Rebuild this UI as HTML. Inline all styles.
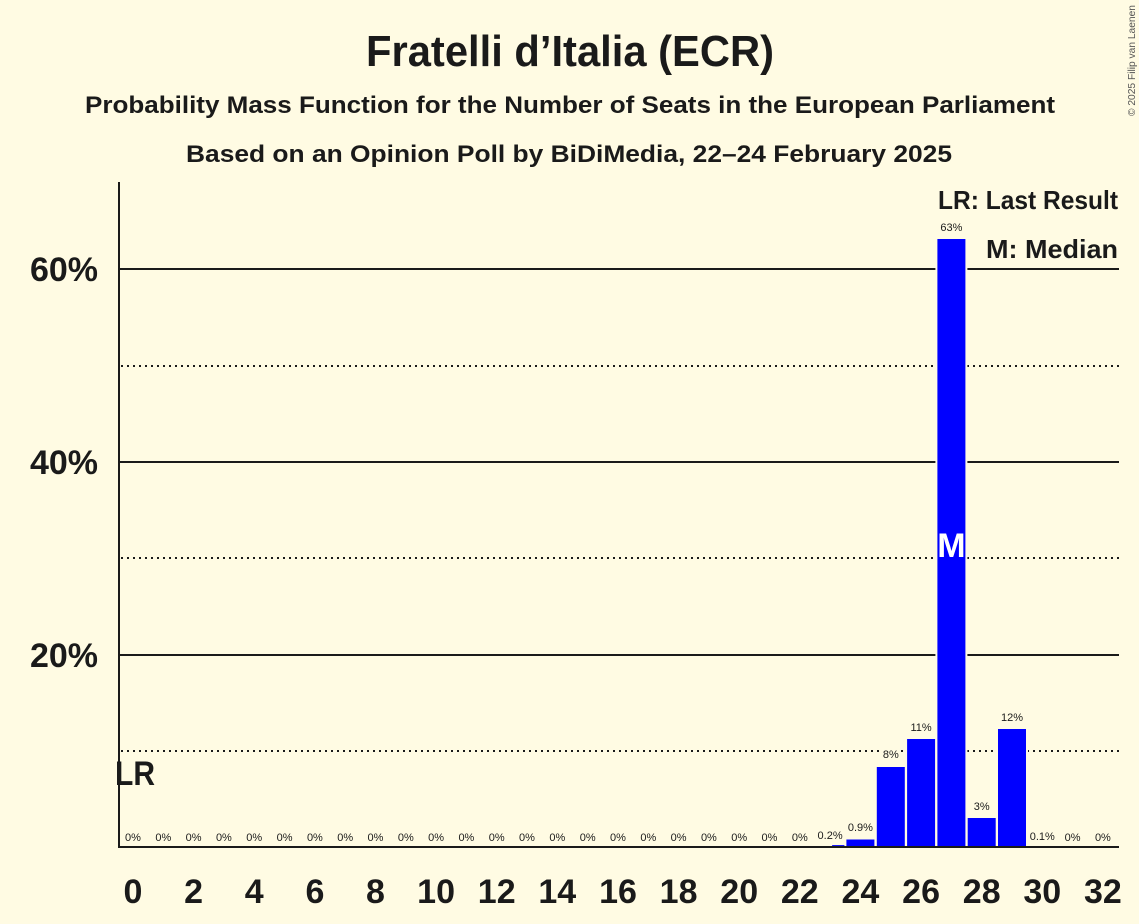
<!DOCTYPE html>
<html><head><meta charset="utf-8"><style>
html,body{margin:0;padding:0;background:#FFFBE3;}
svg{display:block;font-family:"Liberation Sans",sans-serif;}
</style></head><body>
<svg width="1139" height="924" viewBox="0 0 1139 924" xmlns="http://www.w3.org/2000/svg">
<rect x="0" y="0" width="1139" height="924" fill="#FFFBE3"/>
<g fill="#1a1a1a" font-weight="bold" text-anchor="middle">
<text x="570" y="66" font-size="44" textLength="408" lengthAdjust="spacingAndGlyphs">Fratelli d’Italia (ECR)</text>
<text x="570" y="113" font-size="24" textLength="970" lengthAdjust="spacingAndGlyphs">Probability Mass Function for the Number of Seats in the European Parliament</text>
<text x="569" y="162" font-size="24" textLength="766" lengthAdjust="spacingAndGlyphs">Based on an Opinion Poll by BiDiMedia, 22–24 February 2025</text>
</g>
<text transform="translate(1135,116) rotate(-90)" font-size="10" fill="#555" textLength="111" lengthAdjust="spacingAndGlyphs">© 2025 Filip van Laenen</text>
<!-- gridlines -->
<g stroke="#1a1a1a" stroke-width="2">
<line x1="119" y1="269" x2="1119" y2="269"/>
<line x1="119" y1="462" x2="1119" y2="462"/>
<line x1="119" y1="655" x2="1119" y2="655"/>
</g>
<g stroke="#1a1a1a" stroke-width="2" stroke-dasharray="2,4">
<line x1="121" y1="366" x2="1119" y2="366"/>
<line x1="121" y1="558" x2="1119" y2="558"/>
<line x1="121" y1="751" x2="1119" y2="751"/>
</g>
<!-- y labels -->
<g fill="#1a1a1a" font-weight="bold" font-size="34" text-anchor="end">
<text x="98" y="281">60%</text>
<text x="98" y="474">40%</text>
<text x="98" y="667">20%</text>
</g>
<!-- bars: center = 133 + 30.31k -->
<g>
<!-- 23: 0.2 -->
<rect x="830.1" y="843" width="32" height="4" fill="#FFFBE3"/>
<rect x="832.1" y="845.1" width="28" height="1.9" fill="#0000FF"/>
<!-- 24: 0.9 -->
<rect x="844.4" y="837" width="32" height="10" fill="#FFFBE3"/>
<rect x="846.4" y="839.5" width="28" height="7.5" fill="#0000FF"/>
<!-- 25: 8.3 -->
<rect x="874.8" y="765" width="32" height="82" fill="#FFFBE3"/>
<rect x="876.8" y="767" width="28" height="80" fill="#0000FF"/>
<!-- 26: 11.2 -->
<rect x="905.1" y="737" width="32" height="110" fill="#FFFBE3"/>
<rect x="907.1" y="739" width="28" height="108" fill="#0000FF"/>
<!-- 27: 63.1 -->
<rect x="935.4" y="237" width="32" height="610" fill="#FFFBE3"/>
<rect x="937.4" y="239" width="28" height="608" fill="#0000FF"/>
<!-- 28: 3.0 -->
<rect x="965.7" y="816" width="32" height="31" fill="#FFFBE3"/>
<rect x="967.7" y="818" width="28" height="29" fill="#0000FF"/>
<!-- 29: 12.2 -->
<rect x="996.0" y="727" width="32" height="120" fill="#FFFBE3"/>
<rect x="998.0" y="729" width="28" height="118" fill="#0000FF"/>
<!-- 30: 0.1 -->
<rect x="1028.3" y="846" width="28" height="1" fill="#0000FF"/>
</g>
<!-- median M -->
<text x="951.4" y="557" font-size="34" font-weight="bold" fill="#FFFFFF" text-anchor="middle">M</text>
<!-- axes -->
<g stroke="#1a1a1a" stroke-width="2">
<line x1="119" y1="182" x2="119" y2="848"/>
<line x1="118" y1="847" x2="1119" y2="847"/>
</g>
<!-- LR -->
<text x="115" y="785" font-size="34" font-weight="bold" fill="#1a1a1a" textLength="40" lengthAdjust="spacingAndGlyphs">LR</text>
<!-- legend -->
<g fill="#1a1a1a" font-weight="bold" font-size="26" text-anchor="end">
<text x="1118" y="209" textLength="180" lengthAdjust="spacingAndGlyphs">LR: Last Result</text>
<text x="1118" y="258" textLength="132" lengthAdjust="spacingAndGlyphs">M: Median</text>
</g>
<!-- value labels -->
<g fill="#1a1a1a" font-size="11" text-anchor="middle" stroke="#FFFBE3" stroke-width="3" paint-order="stroke" stroke-linejoin="round">
<text x="133.0" y="841">0%</text>
<text x="163.3" y="841">0%</text>
<text x="193.6" y="841">0%</text>
<text x="223.9" y="841">0%</text>
<text x="254.2" y="841">0%</text>
<text x="284.6" y="841">0%</text>
<text x="314.9" y="841">0%</text>
<text x="345.2" y="841">0%</text>
<text x="375.5" y="841">0%</text>
<text x="405.8" y="841">0%</text>
<text x="436.1" y="841">0%</text>
<text x="466.4" y="841">0%</text>
<text x="496.7" y="841">0%</text>
<text x="527.0" y="841">0%</text>
<text x="557.3" y="841">0%</text>
<text x="587.7" y="841">0%</text>
<text x="618.0" y="841">0%</text>
<text x="648.3" y="841">0%</text>
<text x="678.6" y="841">0%</text>
<text x="708.9" y="841">0%</text>
<text x="739.2" y="841">0%</text>
<text x="769.5" y="841">0%</text>
<text x="799.8" y="841">0%</text>
<text x="830.1" y="839">0.2%</text>
<text x="860.4" y="831">0.9%</text>
<text x="890.8" y="758">8%</text>
<text x="921.1" y="731">11%</text>
<text x="951.4" y="231">63%</text>
<text x="981.7" y="810">3%</text>
<text x="1012.0" y="721">12%</text>
<text x="1042.3" y="840">0.1%</text>
<text x="1072.6" y="841">0%</text>
<text x="1102.9" y="841">0%</text>
</g>
<!-- x labels -->
<g fill="#1a1a1a" font-weight="bold" font-size="34" text-anchor="middle">
<text x="133.0" y="903">0</text>
<text x="193.6" y="903">2</text>
<text x="254.2" y="903">4</text>
<text x="314.9" y="903">6</text>
<text x="375.5" y="903">8</text>
<text x="436.1" y="903">10</text>
<text x="496.7" y="903">12</text>
<text x="557.3" y="903">14</text>
<text x="618.0" y="903">16</text>
<text x="678.6" y="903">18</text>
<text x="739.2" y="903">20</text>
<text x="799.8" y="903">22</text>
<text x="860.4" y="903">24</text>
<text x="921.1" y="903">26</text>
<text x="981.7" y="903">28</text>
<text x="1042.3" y="903">30</text>
<text x="1102.9" y="903">32</text>
</g>
</svg>
</body></html>
